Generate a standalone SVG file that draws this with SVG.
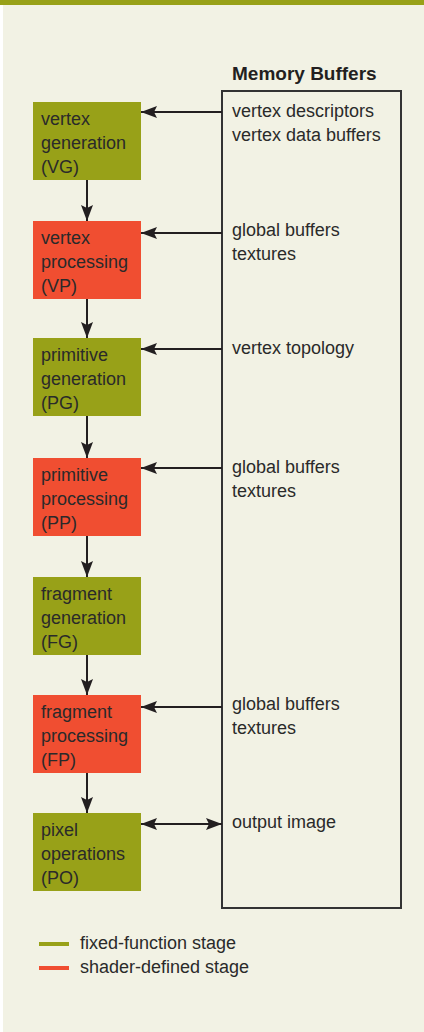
<svg xmlns="http://www.w3.org/2000/svg" width="424" height="1032" viewBox="0 0 424 1032">
<style>
  .bg { fill: #F2F2E4; }
  .fixed { fill: #98A118; }
  .shader { fill: #F04E31; }
  .t { font-family: "Liberation Sans", Arial, sans-serif; font-size: 18px; fill: #2A2A2A; }
  .title { font-family: "Liberation Sans", Arial, sans-serif; font-size: 19px; font-weight: bold; fill: #231F20; }
  .line { stroke: #231F20; stroke-width: 2; fill: none; }
  .mem { stroke: #333333; stroke-width: 2; fill: none; }
</style>
<defs>
  <marker id="ah" viewBox="0 0 16 12" refX="16" refY="6" markerWidth="16" markerHeight="12" markerUnits="userSpaceOnUse" orient="auto-start-reverse">
    <path d="M0,0 L16,6 L0,12 L3,6 Z" fill="#231F20"/>
  </marker>
</defs>
<rect x="0" y="0" width="424" height="1032" fill="#FFFFFF"/>
<rect class="bg" x="3" y="5" width="421" height="1027"/>
<rect class="fixed" x="0" y="0" width="424" height="5"/>

<g id="memory-buffers">
  <text class="title" x="232" y="80">Memory Buffers</text>
  <rect class="mem" x="222" y="91" width="179" height="817"/>
  <text class="t" x="232" y="117">vertex descriptors</text>
  <text class="t" x="232" y="141">vertex data buffers</text>
  <text class="t" x="232" y="236">global buffers</text>
  <text class="t" x="232" y="260">textures</text>
  <text class="t" x="232" y="354">vertex topology</text>
  <text class="t" x="232" y="473">global buffers</text>
  <text class="t" x="232" y="497">textures</text>
  <text class="t" x="232" y="710">global buffers</text>
  <text class="t" x="232" y="734">textures</text>
  <text class="t" x="232" y="828">output image</text>
</g>

<g id="VG">
  <rect class="fixed" x="33" y="102" width="108" height="78"/>
  <text class="t" x="41" y="125">vertex</text>
  <text class="t" x="41" y="149">generation</text>
  <text class="t" x="41" y="173">(VG)</text>
</g>
<g id="VP">
  <rect class="shader" x="33" y="221" width="108" height="78"/>
  <text class="t" x="41" y="244">vertex</text>
  <text class="t" x="41" y="268">processing</text>
  <text class="t" x="41" y="292">(VP)</text>
</g>
<g id="PG">
  <rect class="fixed" x="33" y="338" width="108" height="78"/>
  <text class="t" x="41" y="361">primitive</text>
  <text class="t" x="41" y="385">generation</text>
  <text class="t" x="41" y="409">(PG)</text>
</g>
<g id="PP">
  <rect class="shader" x="33" y="458" width="108" height="78"/>
  <text class="t" x="41" y="481">primitive</text>
  <text class="t" x="41" y="505">processing</text>
  <text class="t" x="41" y="529">(PP)</text>
</g>
<g id="FG">
  <rect class="fixed" x="33" y="577" width="108" height="78"/>
  <text class="t" x="41" y="600">fragment</text>
  <text class="t" x="41" y="624">generation</text>
  <text class="t" x="41" y="648">(FG)</text>
</g>
<g id="FP">
  <rect class="shader" x="33" y="695" width="108" height="78"/>
  <text class="t" x="41" y="718">fragment</text>
  <text class="t" x="41" y="742">processing</text>
  <text class="t" x="41" y="766">(FP)</text>
</g>
<g id="PO">
  <rect class="fixed" x="33" y="813" width="108" height="78"/>
  <text class="t" x="41" y="836">pixel</text>
  <text class="t" x="41" y="860">operations</text>
  <text class="t" x="41" y="884">(PO)</text>
</g>

<g id="connectors">
  <line class="line" x1="87" y1="180" x2="87" y2="221" marker-end="url(#ah)"/>
  <line class="line" x1="87" y1="299" x2="87" y2="338" marker-end="url(#ah)"/>
  <line class="line" x1="87" y1="416" x2="87" y2="458" marker-end="url(#ah)"/>
  <line class="line" x1="87" y1="536" x2="87" y2="577" marker-end="url(#ah)"/>
  <line class="line" x1="87" y1="655" x2="87" y2="695" marker-end="url(#ah)"/>
  <line class="line" x1="87" y1="773" x2="87" y2="813" marker-end="url(#ah)"/>
  <line class="line" x1="222" y1="112" x2="141" y2="112" marker-end="url(#ah)"/>
  <line class="line" x1="222" y1="233" x2="141" y2="233" marker-end="url(#ah)"/>
  <line class="line" x1="222" y1="349" x2="141" y2="349" marker-end="url(#ah)"/>
  <line class="line" x1="222" y1="468" x2="141" y2="468" marker-end="url(#ah)"/>
  <line class="line" x1="222" y1="707" x2="141" y2="707" marker-end="url(#ah)"/>
  <line class="line" x1="141" y1="824" x2="222" y2="824" marker-start="url(#ah)" marker-end="url(#ah)"/>
</g>

<g id="legend">
  <rect class="fixed" x="39" y="942" width="30" height="4"/>
  <text class="t" x="80" y="949">fixed-function stage</text>
  <rect class="shader" x="39" y="966" width="30" height="4"/>
  <text class="t" x="80" y="973">shader-defined stage</text>
</g>
</svg>
